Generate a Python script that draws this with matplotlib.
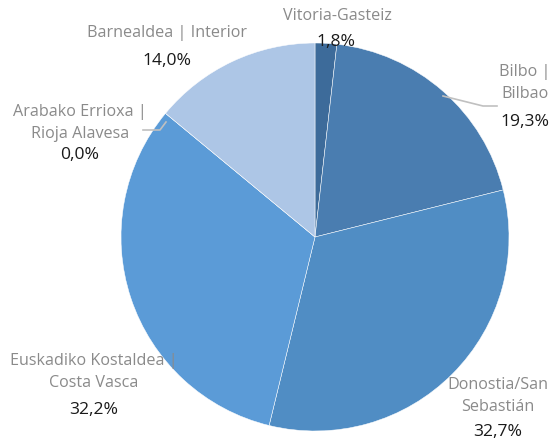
import matplotlib.pyplot as plt

# shares by area, clockwise from 12 o'clock
areas = ["Vitoria-Gasteiz", "Bilbo |\nBilbao", "Donostia/San\nSebastián",
         "Euskadiko Kostaldea |\nCosta Vasca", "Arabako Errioxa |\nRioja Alavesa",
         "Barnealdea | Interior"]
shares = [1.8, 19.3, 32.7, 32.2, 0.0, 14.0]
colors = ["#3d6b9a", "#4a7db0", "#508dc4", "#5b9bd7", "#5b9bd7", "#adc6e6"]

# label anchor points (px, centre of name block / pct line)
name_pos = [(337, 16), (525, 83), (498, 396), (94, 372), (80, 123), (167, 33)]
pct_pos = [(336, 42), (525, 122), (498, 432), (94, 410), (80, 155), (167, 61)]

W, H = 553, 441
fig = plt.figure(figsize=(W / 100, H / 100), dpi=100)
ax = fig.add_axes([0, 0, 1, 1])

cx, cy, r = 315, 237, 194
ax.pie(shares, colors=colors, startangle=90, counterclock=False,
       center=(cx, H - cy), radius=r, frame=True,
       wedgeprops=dict(edgecolor="white", linewidth=0.35))
ax.set_xlim(0, W)
ax.set_ylim(0, H)
ax.set_aspect("equal")
ax.axis("off")

font = "Open Sans"
for name, v, (nx, ny), (px, py) in zip(areas, shares, name_pos, pct_pos):
    ax.text(nx, H - ny, name, ha="center", va="center", fontsize=11.6,
            color="#8a8a8a", family=font, linespacing=1.55)
    ax.text(px, H - py, f"{v:.1f}%".replace(".", ","), ha="center", va="center",
            fontsize=12.6, color="#1a1a1a", family=font)

# leader lines
ax.plot([443, 483, 497], [H - 96, H - 106, H - 106], color="#c0c0c0", lw=1.2)
ax.plot([143, 160, 166], [H - 130, H - 130, H - 122], color="#c0c0c0", lw=1.2)

fig.savefig("out.png", dpi=100)
